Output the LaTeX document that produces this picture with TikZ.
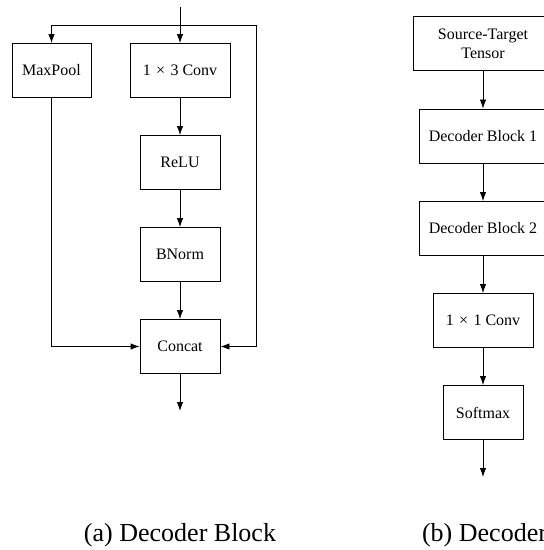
\documentclass[tikz,border=0pt]{standalone}
\usepackage{fontspec}
\setmainfont{Liberation Serif}
\usepackage{tikz}
\usetikzlibrary{arrows.meta}

\tikzset{
  blk/.style={draw, minimum height=27pt, inner sep=2pt, font=\fontsize{8}{9.5}\selectfont, align=center},
  arr/.style={-{Latex[length=4.5pt,width=3.2pt]}},
  captxt/.style={font=\fontsize{13}{15}\selectfont, anchor=base}
}

\begin{document}
\begin{tikzpicture}[x=0.5pt,y=-0.5pt]
\useasboundingbox (0,0) rectangle (544,550);
\clip (0,0) rectangle (544,550);
% (a) decoder block
\node[blk, minimum width=39.5pt](maxpool) at (51.5,70.5) {MaxPool};
\node[blk, minimum width=50pt](conv) at (180,70.5) {1\,\,×\,\,3 Conv};
\node[blk, minimum width=40pt](relu) at (180,162.5) {ReLU};
\node[blk, minimum width=40pt](bnorm) at (180,254.5) {BNorm};
\node[blk, minimum width=40pt](concat) at (180,346.5) {Concat};
\coordinate(in) at (180,7);
\coordinate(split) at (180,25);
\coordinate(out) at (180,411);
%
\draw[arr](in) -- (conv);
\draw[arr](split) -| (maxpool);
\draw[arr](split) -- (256,25) |- (concat);
\draw[arr](conv) -- (relu);
\draw[arr](relu) -- (bnorm);
\draw[arr](bnorm) -- (concat);
\draw[arr](maxpool) |- (concat);
\draw[arr](concat) -- (out);
\node[captxt](capa) at (180,541) {(a) Decoder Block};
% (b) decoder
\node[blk, minimum width=70pt](src) at (483,43.5) {Source-Target\\Tensor};
\node[blk, minimum width=64pt](dec1) at (483,136) {Decoder Block 1};
\node[blk, minimum width=64pt](dec2) at (483,228.5) {Decoder Block 2};
\node[blk, minimum width=50pt](conv1) at (483,320.5) {1\,\,×\,\,1 Conv};
\node[blk, minimum width=40pt](soft) at (483,412.5) {Softmax};
\coordinate(outb) at (483,477);
%
\draw[arr](src) -- (dec1);
\draw[arr](dec1) -- (dec2);
\draw[arr](dec2) -- (conv1);
\draw[arr](conv1) -- (soft);
\draw[arr](soft) -- (outb);
\node[captxt, anchor=base west](capb) at (415,541) {(b) Decoder};
\end{tikzpicture}
\end{document}
